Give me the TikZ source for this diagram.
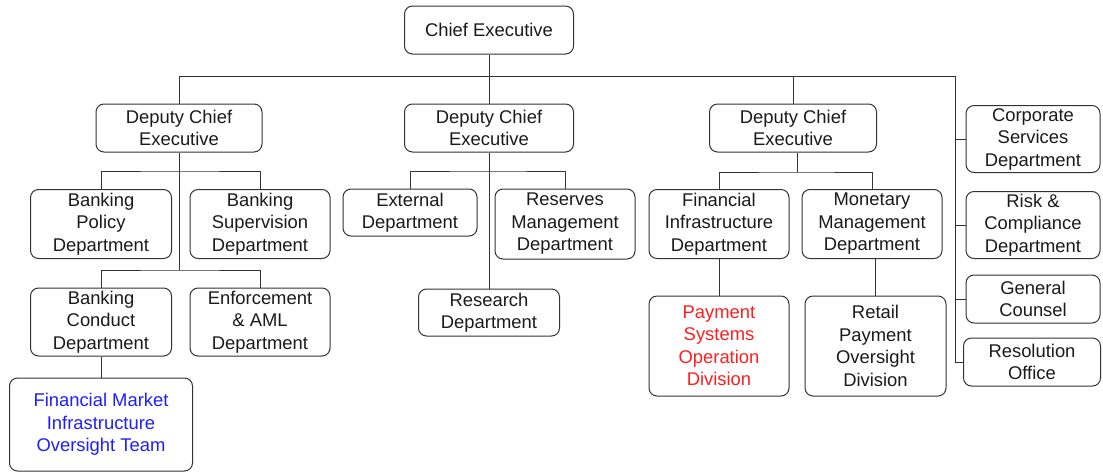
\documentclass[tikz,border=0pt]{standalone}
\usepackage{fontspec}
\setmainfont{Liberation Sans}
\definecolor{linegray}{HTML}{333333}
\definecolor{textgray}{HTML}{1A1A1A}
\definecolor{teamblue}{HTML}{1E1EFF}
\definecolor{divred}{HTML}{FF1E1E}
\begin{document}
\begin{tikzpicture}[x=1pt, y=-1pt,
    unit/.style={draw=linegray,
      line width=1pt,
      rounded corners=8pt,
      align=center,
      inner sep=0pt,
      text=textgray,
      font=\fontsize{18.4}{22.5}\selectfont},
    link/.style={draw=linegray, line width=1pt}]
    \useasboundingbox (0,0) rectangle (1103,472);

    % Chief Executive
    \node[unit, minimum width=169pt, minimum height=48pt] (ce) at (489,30) {Chief Executive};

    % Deputy Chief Executives
    \node[unit, minimum width=166pt, minimum height=48pt] (dceA) at (179,128) {Deputy Chief\\Executive};
    \node[unit, minimum width=169pt, minimum height=48pt] (dceB) at (489,128) {Deputy Chief\\Executive};
    \node[unit, minimum width=167pt, minimum height=48pt] (dceC) at (793,128) {Deputy Chief\\Executive};

    % Offices on the right
    \node[unit, minimum width=134pt, minimum height=67pt] (corp) at (1033,139) {Corporate\\Services\\Department};
    \node[unit, minimum width=134pt, minimum height=67pt] (risk) at (1033,225) {Risk \&\\Compliance\\Department};
    \node[unit, minimum width=134pt, minimum height=48pt] (counsel) at (1033,299) {General\\Counsel};
    \node[unit, minimum width=137pt, minimum height=48pt] (resol) at (1032,362) {Resolution\\Office};

    % Banking departments
    \node[unit, minimum width=141pt, minimum height=69pt] (bpol) at (101,224) {Banking\\Policy\\Department};
    \node[unit, minimum width=140pt, minimum height=69pt] (bsup) at (260,224) {Banking\\Supervision\\Department};
    \node[unit, minimum width=141pt, minimum height=68pt] (bcon) at (101,322) {Banking\\Conduct\\Department};
    \node[unit, minimum width=140pt, minimum height=68pt] (enf) at (260,322) {Enforcement\\\& AML\\Department};
    \node[unit, minimum width=183pt, minimum height=93pt, text=teamblue] (fmi) at (101,424.5) {Financial Market\\Infrastructure\\Oversight Team};

    % External, Reserves, Research
    \node[unit, minimum width=134pt, minimum height=47pt] (ext) at (410,212.5) {External\\Department};
    \node[unit, minimum width=140pt, minimum height=70pt] (resv) at (565,224) {Reserves\\Management\\Department};
    \node[unit, minimum width=141pt, minimum height=47pt] (research) at (489,312.5) {Research\\Department};

    % Financial Infrastructure and Monetary Management
    \node[unit, minimum width=140pt, minimum height=69pt] (fin) at (719,224) {Financial\\Infrastructure\\Department};
    \node[unit, minimum width=140pt, minimum height=69pt] (mon) at (872,224) {Monetary\\Management\\Department};
    \node[unit, minimum width=140pt, minimum height=100pt, text=divred] (pso) at (719,346) {Payment\\Systems\\Operation\\Division};
    \node[unit, minimum width=141pt, minimum height=100pt] (rpo) at (875.5,346) {Retail\\Payment\\Oversight\\Division};

    % Bus points
    \coordinate (topbus) at (489,76);
    \coordinate (rtrunk) at (955,76);
    \coordinate (busA) at (179,171);
    \coordinate (busAA) at (179,270);
    \coordinate (busB) at (489,171);
    \coordinate (busC) at (797,172);

    % Draw Connectors
    \draw[link] (ce.south) -- (dceB.north);
    \draw[link] (dceA.north) |- (rtrunk) |- (resol.west);
    \draw[link] (dceC.north) -- (dceC.north |- topbus);
    \foreach \n in {corp,risk,counsel}
      \draw[link] (rtrunk |- \n.west) -- (\n.west);

    \draw[link] (dceA.south) -- (busAA);
    \draw[link] (bpol.north) |- (busA) -| (bsup.north);
    \draw[link] (bcon.north) |- (busAA) -| (enf.north);
    \draw[link] (bcon.south) -- (fmi.north);

    \draw[link] (dceB.south) -- (research.north);
    \draw[link] (ext.north) |- (busB) -| (resv.north);

    \draw[link] (busC |- dceC.south) -- (busC);
    \draw[link] (fin.north) |- (busC) -| (mon.north);
    \draw[link] (fin.south) -- (pso.north);
    \draw[link] (rpo.north |- mon.south) -- (rpo.north);
  \end{tikzpicture}
\end{document}
